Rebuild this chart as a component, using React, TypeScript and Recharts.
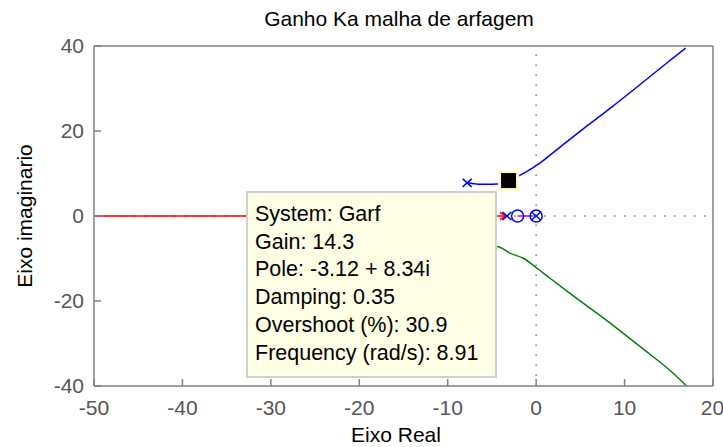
import {
  ComposedChart,
  Line,
  Scatter,
  XAxis,
  YAxis,
  ReferenceLine,
} from "recharts";

const xTicks = [-50, -40, -30, -20, -10, 0, 10, 20];
const yTicks = [-40, -20, 0, 20, 40];

// root locus branches (real / imaginary parts)
const realBranchRe = [-50, -3.4];
const realBranchIm = [0, 0];
const upperBranchRe = [-7.8, -6.5, -5.0, -3.8, -3.12, -2.4, -1.8, -0.8, 0.45, 1.5, 2.7, 5.5, 8.4, 11.2, 14.0, 16.9];
const upperBranchIm = [7.8, 7.5, 7.5, 7.6, 8.34, 9.0, 9.6, 10.8, 12.5, 14.2, 16.2, 20.8, 25.4, 30.0, 34.7, 39.5];
const lowerBranchRe = [-7.8, -6.0, -4.45, -2.9, -1.4, 0.1, 1.6, 4.2, 8.0, 11.8, 15.5, 17.0];
const lowerBranchIm = [-7.8, -7.4, -7.2, -8.8, -10.0, -12.3, -14.7, -18.8, -24.6, -30.8, -37.0, -40.0];
const zeroBranchRe = [-2.1, -0.4];
const zeroBranchIm = [0, 0];
const originBranchRe = [-0.4, 0];
const originBranchIm = [0, 0];

const poleRe = [-7.8, -7.8, -3.3, 0];
const poleIm = [7.8, -7.8, 0, 0];
const zeroRe = [-2.1, 0];
const zeroIm = [0, 0];

const tipRe = [-3.12];
const tipIm = [8.34];
const tipLines = [
  "System: Garf",
  "Gain: 14.3",
  "Pole: -3.12 + 8.34i",
  "Damping: 0.35",
  "Overshoot (%): 30.9",
  "Frequency (rad/s): 8.91",
];

const pts = (re: number[], im: number[]) => re.map((x, i) => ({ x, y: im[i] }));

const font = "'Liberation Sans', Arial, sans-serif";
const axisColor = "#808080";

const PoleMark = (p: any) => {
  const { cx, cy } = p;
  const w = 4.5;
  const h = 4;
  return (
    <path
      d={`M${cx - w},${cy - h}L${cx + w},${cy + h}M${cx - w},${cy + h}L${cx + w},${cy - h}`}
      stroke="#0000ff"
      strokeWidth={1.5}
      fill="none"
    />
  );
};

const ZeroMark = (p: any) => (
  <circle cx={p.cx} cy={p.cy} r={6} stroke="#0000ff" strokeWidth={1.5} fill="none" />
);

const TipMark = (p: any) => (
  <g>
    <rect x={p.cx - 10.5} y={p.cy - 10.5} width={21} height={21} fill="#fffbd8" />
    <rect x={p.cx - 7.5} y={p.cy - 7.5} width={15} height={15} fill="#000" />
  </g>
);

const ArrowDot = (p: any) => {
  const { cx, cy, index } = p;
  if (index !== realBranchRe.length - 1) return <g key={index} />;
  return (
    <path
      key={index}
      d={`M${cx - 6},${cy - 3.5}L${cx},${cy}L${cx - 6},${cy + 3.5}`}
      stroke="#ff0000"
      strokeWidth={1.5}
      fill="none"
    />
  );
};

export default function App() {
  const tickStyle = { fontSize: 21, fill: "#555", fontFamily: font };
  return (
    <div
      style={{
        position: "absolute",
        left: 0,
        top: 0,
        width: 723,
        height: 447,
        background: "#fff",
        fontFamily: font,
        overflow: "hidden",
      }}
    >
      <ComposedChart
        width={723}
        height={447}
        margin={{ top: 45, right: 9, bottom: 0, left: 10 }}
      >
        <XAxis
          dataKey="x"
          type="number"
          domain={[-50, 20]}
          ticks={xTicks}
          allowDataOverflow
          height={61}
          tickSize={-7}
          tickMargin={21}
          stroke={axisColor}
          strokeWidth={1.5}
          tick={tickStyle}
        />
        <XAxis
          xAxisId="top"
          orientation="top"
          type="number"
          domain={[-50, 20]}
          ticks={xTicks}
          allowDataOverflow
          height={1}
          tickSize={-7}
          tick={false}
          stroke={axisColor}
          strokeWidth={1.5}
        />
        <YAxis
          dataKey="y"
          type="number"
          domain={[-40, 40]}
          ticks={yTicks}
          allowDataOverflow
          width={84}
          tickSize={-7}
          tickMargin={17}
          stroke={axisColor}
          strokeWidth={1.5}
          tick={tickStyle}
        />
        <YAxis
          yAxisId="right"
          orientation="right"
          type="number"
          domain={[-40, 40]}
          ticks={yTicks}
          allowDataOverflow
          width={1}
          tickSize={-7}
          tick={false}
          stroke={axisColor}
          strokeWidth={1.5}
        />
        <ReferenceLine x={0} stroke="#808080" strokeWidth={1.5} strokeDasharray="1.5 8.5" />
        <ReferenceLine y={0} stroke="#808080" strokeWidth={1.5} strokeDasharray="1.5 8.5" />
        <Line
          data={pts(realBranchRe, realBranchIm)}
          dataKey="y"
          type="linear"
          stroke="#ff0000"
          strokeWidth={1.5}
          dot={ArrowDot}
          activeDot={false}
          isAnimationActive={false}
        />
        <Line
          data={pts(upperBranchRe, upperBranchIm)}
          dataKey="y"
          type="monotone"
          stroke="#0000ff"
          strokeWidth={1.5}
          dot={false}
          activeDot={false}
          isAnimationActive={false}
        />
        <Line
          data={pts(lowerBranchRe, lowerBranchIm)}
          dataKey="y"
          type="monotone"
          stroke="#008000"
          strokeWidth={1.5}
          dot={false}
          activeDot={false}
          isAnimationActive={false}
        />
        <Line
          data={pts(zeroBranchRe, zeroBranchIm)}
          dataKey="y"
          type="linear"
          stroke="#cc00cc"
          strokeWidth={1.5}
          dot={false}
          activeDot={false}
          isAnimationActive={false}
        />
        <Line
          data={pts(originBranchRe, originBranchIm)}
          dataKey="y"
          type="linear"
          stroke="#00bfbf"
          strokeWidth={1.5}
          dot={false}
          activeDot={false}
          isAnimationActive={false}
        />
        <Scatter data={pts(zeroRe, zeroIm)} shape={ZeroMark} isAnimationActive={false} />
        <Scatter data={pts(poleRe, poleIm)} shape={PoleMark} isAnimationActive={false} />
        <Scatter data={pts(tipRe, tipIm)} shape={TipMark} isAnimationActive={false} />
      </ComposedChart>

      <div
        style={{
          position: "absolute",
          left: 399,
          top: 7,
          transform: "translateX(-50%)",
          fontSize: 21,
          lineHeight: "24px",
          whiteSpace: "nowrap",
          color: "#000",
        }}
      >
        Ganho Ka malha de arfagem
      </div>
      <div
        style={{
          position: "absolute",
          left: 396,
          top: 425,
          transform: "translateX(-50%)",
          fontSize: 21,
          lineHeight: "20px",
          whiteSpace: "nowrap",
          color: "#000",
        }}
      >
        Eixo Real
      </div>
      <div
        style={{
          position: "absolute",
          left: 24,
          top: 216,
          transform: "translate(-50%, -50%) rotate(-90deg)",
          fontSize: 21,
          lineHeight: "23px",
          whiteSpace: "nowrap",
          color: "#000",
        }}
      >
        Eixo imaginario
      </div>

      <div
        style={{
          position: "absolute",
          left: 246,
          top: 191,
          width: 251,
          height: 187,
          boxSizing: "border-box",
          background: "#ffffe6",
          border: "2px solid #cfcfcf",
          padding: "8px 0 0 7px",
          fontSize: 21.5,
          lineHeight: "27.7px",
          color: "#000",
          whiteSpace: "nowrap",
        }}
      >
        {tipLines.map((t) => (
          <div key={t}>{t}</div>
        ))}
      </div>
    </div>
  );
}
